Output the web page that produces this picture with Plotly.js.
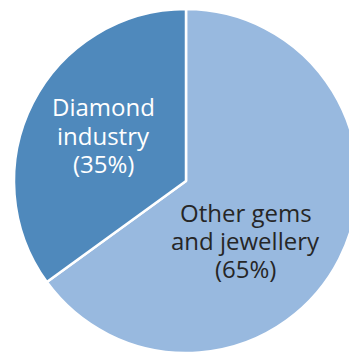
<!DOCTYPE html>
<html>
<head>
<meta charset="utf-8">
<script src="https://cdn.plot.ly/plotly-3.0.1.min.js"></script>
<style>
html,body{margin:0;padding:0;overflow:hidden;background:#fff;width:349px;height:352px;}
#chart{width:372px;height:362px;}
</style>
</head>
<body>
<div id="chart"></div>
<script>
const categories = ["Other gems and jewellery", "Diamond industry"];
const labelLines = [["Other gems", "and jewellery"], ["Diamond", "industry"]];
const values = [65, 35];
const colors = ["#98b9df", "#4f89bc"];
const textColors = ["#262626", "#ffffff"];

const trace = {
  type: "pie",
  labels: categories,
  values: values,
  sort: false,
  direction: "clockwise",
  rotation: 0,
  textinfo: "none",
  hoverinfo: "none",
  marker: {colors: colors, line: {color: "#ffffff", width: 2.5}},
  domain: {x: [0, 1], y: [0, 1]},
  showlegend: false
};

// layout geometry (pixels in the page)
const W = 372, H = 362, ML = 14, MT = 9, PW = 344, PH = 344;
const toPaperX = px => (px - ML) / PW;
const toPaperY = py => (MT + PH - py) / PH;

// label block anchor: centre x, first-line middle y, line spacing (pixels)
const labelPos = [{x: 245.5, y: 213, dy: 27.5}, {x: 103, y: 107, dy: 28}];
const annotations = [];
categories.forEach((c, i) => {
  const lines = labelLines[i].concat(["(" + values[i] + "%)"]);
  lines.forEach((t, k) => {
    annotations.push({
      xref: "paper", yref: "paper",
      x: toPaperX(labelPos[i].x), y: toPaperY(labelPos[i].y + k * labelPos[i].dy),
      xanchor: "center", yanchor: "middle",
      showarrow: false,
      text: t,
      font: {family: "Open Sans", size: 24, color: textColors[i]}
    });
  });
});

Plotly.newPlot("chart", [trace], {
  width: W, height: H,
  margin: {l: ML, r: W - ML - PW, t: MT, b: H - MT - PH},
  paper_bgcolor: "#ffffff",
  annotations: annotations
}, {displayModeBar: false, staticPlot: true});
</script>
</body>
</html>
